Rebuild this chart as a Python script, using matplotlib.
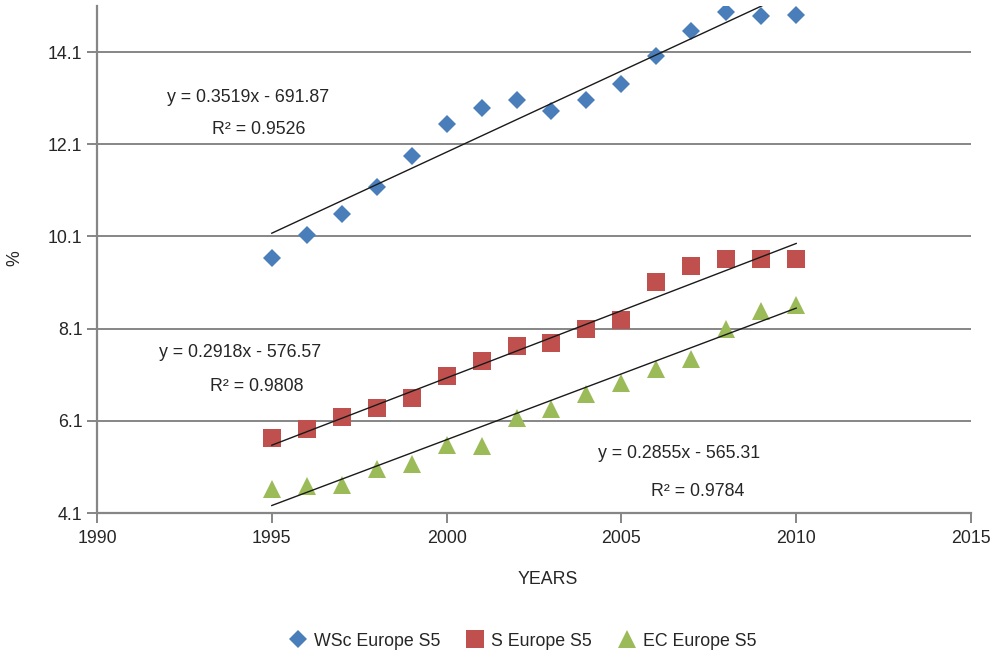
import matplotlib
matplotlib.use("Agg")
import matplotlib.pyplot as plt
import numpy as np

plt.rcParams['font.family'] = ['Liberation Sans', 'DejaVu Sans']

years = [1995, 1996, 1997, 1998, 1999, 2000, 2001, 2002, 2003, 2004, 2005, 2006, 2007, 2008, 2009, 2010]
wsc = [9.63, 10.13, 10.59, 11.17, 11.84, 12.54, 12.89, 13.06, 12.82, 13.06, 13.41, 14.01, 14.56, 14.97, 14.88, 14.90]
s_eu = [5.73, 5.92, 6.18, 6.38, 6.59, 7.07, 7.40, 7.72, 7.79, 8.09, 8.29, 9.11, 9.46, 9.61, 9.61, 9.61]
ec = [4.62, 4.69, 4.71, 5.05, 5.16, 5.57, 5.55, 6.16, 6.36, 6.68, 6.92, 7.22, 7.44, 8.09, 8.48, 8.61]

series_names = ["WSc Europe S5", "S Europe S5", "EC Europe S5"]
slopes = [0.3519, 0.2918, 0.2855]
intercepts = [-691.87, -576.57, -565.31]
r2 = [0.9526, 0.9808, 0.9784]

x_ticks = [1990, 1995, 2000, 2005, 2010, 2015]
y_ticks = [4.1, 6.1, 8.1, 10.1, 12.1, 14.1]

colors = ["#4a7ebb", "#c0504d", "#9bbb59"]
markers = ["D", "s", "^"]
msizes = [9.2, 13.5, 13]

fig = plt.figure(figsize=(10.01, 6.56), dpi=100)
ax = fig.add_axes([97/1001, 1 - 513/656, (971 - 97)/1001, (513 - 6)/656])

gray = "#868686"
fs = 12.8
for y in y_ticks:
    ax.axhline(y, color=gray, lw=1.4, zorder=1)

for vals, c, m, ms, name in zip([wsc, s_eu, ec], colors, markers, msizes, series_names):
    ax.plot(years, vals, linestyle='none', marker=m, color=c, markersize=ms,
            markeredgewidth=0, label=name, zorder=3)

xs = np.array([years[0], years[-1]])
for a, b in zip(slopes, intercepts):
    ax.plot(xs, a * xs + b, color="#1a1a1a", lw=1.0, zorder=4)

# equation labels
eq_pos = [((1994.31, 13.12), (1994.63, 12.41)),
          ((1994.09, 7.59), (1994.57, 6.85)),
          ((2006.66, 5.40), (2007.17, 4.56))]
for (p1, p2), a, b, r in zip(eq_pos, slopes, intercepts, r2):
    ax.text(p1[0], p1[1], f"y = {a:.4f}x - {abs(b):.2f}", ha='center', va='center',
            fontsize=fs, color="#262626")
    ax.text(p2[0], p2[1], f"R² = {r:.4f}", ha='center', va='center',
            fontsize=fs, color="#262626")

ax.set_xlim(1990, 2015)
ax.set_ylim(4.1, 15.1)
ax.set_xticks(x_ticks)
ax.set_yticks(y_ticks)
ax.set_yticklabels([f"{v:.1f}" for v in y_ticks])
ax.tick_params(axis='both', labelsize=fs, colors=gray, labelcolor="#262626",
               direction='out', length=7, width=1.4)
ax.tick_params(axis='x', pad=5)
for sp in ['top', 'right']:
    ax.spines[sp].set_visible(False)
for sp in ['left', 'bottom']:
    ax.spines[sp].set_color(gray)
    ax.spines[sp].set_linewidth(1.6)

fig.text(548/1001, 1 - 580/656, "YEARS", ha='center', va='center', fontsize=fs, color="#262626")
fig.text(15/1001, 1 - 258/656, "%", ha='center', va='center', fontsize=fs, color="#262626", rotation=90)

leg = fig.legend(loc='center', bbox_to_anchor=(522/1001, 1 - 641/656), ncol=3, frameon=False,
                 fontsize=fs, handletextpad=0.3, columnspacing=1.35, handlelength=1.2)
for t in leg.get_texts():
    t.set_color("#262626")

fig.savefig("out.png", dpi=100)
